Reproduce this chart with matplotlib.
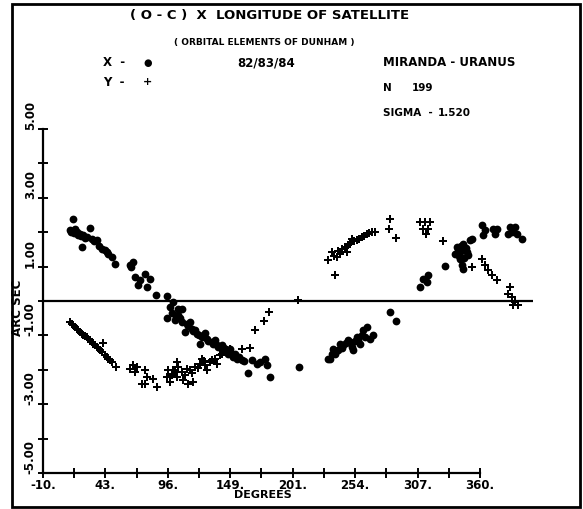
import matplotlib
matplotlib.use("Agg")
import matplotlib.pyplot as plt
from matplotlib.patches import Rectangle
import numpy as np

# (O - C) residuals, degrees of longitude vs arc seconds
x_deg = [15.1, 12.9, 17.1, 18.5, 21.3, 29.8, 24.1, 27.0, 31.2, 35.5, 23.3, 39.7,
         42.5, 45.3, 48.2, 51.0, 63.7, 66.0, 67.9, 70.7, 76.4, 80.6, 77.8, 72.1,
         85.7, 94.7, 100.3, 104.6, 101.8, 107.4, 111.7, 110.2, 115.9, 120.1, 124.4,
         128.6, 132.8, 137.1, 139.9, 144.1, 147.0, 151.1, 154.0, 158.2, 166.7,
         171.0, 178.0, 179.4, 163.8, 182.2, 94.7, 107.4, 122.9, 97.5, 104.3, 114.5,
         118.7, 127.2, 135.6, 141.6, 148.3, 152.6, 207.0, 283.8, 288.9, 233.0,
         237.3, 240.0, 244.3, 248.5, 251.4, 255.6, 258.4, 261.2, 264.1, 266.9,
         269.7, 252.3, 241.5, 235.8, 231.6, 312.0, 309.2, 316.2, 314.9, 330.4,
         344.5, 345.9, 340.3, 343.1, 347.3, 345.9, 350.1, 351.6, 353.0, 338.9,
         343.1, 361.5, 364.3, 362.9, 371.3, 374.2, 372.7, 385.4, 389.7, 386.8,
         391.1, 395.3, 384.0,
         14.0, 16.5, 19.8, 22.6, 25.5, 33.0, 37.5, 44.0, 64.5, 99.0, 103.0, 106.0,
         113.0, 117.0, 122.0, 126.0, 130.0, 134.0, 138.5, 143.0, 146.0, 150.0,
         156.0, 160.0, 174.0, 234.5, 238.5, 242.8, 246.5, 250.0, 254.0, 257.0,
         260.0, 262.5, 341.5, 344.0, 348.5, 342.0, 346.5, 349.0]
x_sec = [2.39, 2.06, 2.10, 2.00, 1.96, 2.12, 1.91, 1.86, 1.81, 1.77, 1.57, 1.52,
         1.47, 1.38, 1.28, 1.08, 1.04, 1.13, 0.70, 0.46, 0.79, 0.65, 0.41, 0.61,
         0.18, 0.14, -0.03, -0.22, -0.56, -0.61, -0.66, -0.90, -0.80, -0.95, -1.05,
         -1.10, -1.19, -1.29, -1.34, -1.43, -1.53, -1.63, -1.68, -1.72, -1.72,
         -1.82, -1.68, -1.87, -2.09, -2.21, -0.49, -0.22, -1.24, -0.17, -0.41, -0.61,
         -0.84, -0.93, -1.13, -1.28, -1.40, -1.54, -1.92, -0.32, -0.58, -1.68,
         -1.53, -1.43, -1.29, -1.14, -1.34, -1.05, -1.24, -0.85, -0.76, -1.10,
         -1.00, -1.43, -1.24, -1.39, -1.68, 0.65, 0.41, 0.75, 0.55, 1.01,
         1.04, 0.94, 1.57, 1.42, 1.47, 1.67, 1.33, 1.76, 1.81, 1.38,
         1.23, 2.20, 2.06, 1.91, 2.10, 2.10, 1.96, 2.15, 2.15, 2.01,
         1.96, 1.81, 1.96,
         2.00, 1.98, 1.92, 1.88, 1.83, 1.75, 1.60, 1.42, 1.00, -0.35, -0.45, -0.50,
         -0.72, -0.88, -1.00, -1.02, -1.15, -1.25, -1.35, -1.38, -1.47, -1.55,
         -1.62, -1.75, -1.78, -1.55, -1.45, -1.36, -1.22, -1.20, -1.15, -1.12,
         -0.98, -1.05, 1.50, 1.60, 1.55, 1.30, 1.25, 1.42]

y_deg = [12.9, 15.7, 18.5, 21.3, 24.1, 27.0, 29.8, 32.6, 35.5, 38.3, 41.1, 42.5,
         45.3, 48.2, 51.6, 63.7, 66.5, 69.3, 67.9, 76.4, 77.8, 73.6, 83.4, 86.3,
         76.4, 96.1, 98.9, 101.8, 103.2, 94.7, 97.5, 104.6, 99.0, 103.2, 108.8,
         113.0, 117.3, 103.2, 107.4, 114.5, 118.7, 122.9, 124.4, 127.2, 131.4,
         135.6, 139.9, 144.1, 148.3, 158.2, 165.3, 169.5, 177.4, 181.6, 137.1,
         128.6, 206.2, 237.3, 231.6, 234.4, 238.7, 241.5, 245.7, 250.0, 251.4,
         255.6, 259.9, 264.1, 268.3, 271.1, 247.2, 283.8, 283.2, 288.9, 309.2,
         313.5, 317.7, 312.0, 316.2, 314.3, 329.0, 353.0, 361.5, 364.3, 367.1,
         370.0, 374.7, 385.4, 384.0, 386.8, 389.7, 392.5, 388.3,
         14.3, 17.1, 19.9, 22.7, 25.5, 28.4, 31.2, 34.0, 36.9, 39.7, 43.9, 46.8,
         100.5, 110.0, 112.0, 116.0, 121.0, 126.0, 133.5, 142.0, 146.0,
         236.0, 240.0, 243.5, 248.5, 253.0, 257.5, 262.0, 266.0]
y_sec = [-0.61, -0.71, -0.80, -0.90, -1.00, -1.05, -1.14, -1.24, -1.34, -1.43,
         -1.22, -1.58, -1.68, -1.77, -1.92, -1.97, -1.87, -1.92, -2.06, -2.02,
         -2.21, -2.42, -2.26, -2.50, -2.40, -2.02, -2.16, -2.06, -2.21, -2.21,
         -2.35, -1.92, -2.11, -2.21, -2.31, -2.40, -2.35, -1.77, -2.06, -2.02,
         -1.92, -1.82, -1.68, -1.87, -1.77, -1.68, -1.58, -1.48, -1.39, -1.39,
         -1.36, -0.85, -0.59, -0.32, -1.82, -2.02, 0.04, 0.77, 1.18, 1.42, 1.28,
         1.38, 1.57, 1.67, 1.81, 1.76, 1.86, 1.96, 2.01, 2.01, 1.42, 2.39, 2.08,
         1.83, 2.30, 2.30, 2.30, 2.10, 2.10, 1.96, 1.73, 0.99, 1.23, 1.04, 0.89,
         0.75, 0.60, 0.41, 0.21, 0.12, -0.03, -0.13, -0.13,
         -0.66, -0.76, -0.85, -0.95, -1.02, -1.10, -1.19, -1.29, -1.38, -1.48,
         -1.63, -1.72, -2.00, -2.15, -1.98, -2.10, -1.95, -1.75, -1.72, -1.55,
         -1.43, 1.30, 1.45, 1.50, 1.62, 1.75, 1.80, 1.90, 1.98]

x_ticks = list(np.linspace(-10, 360, 15))
x_labels = ["-10.", "43.", "96.", "149.", "201.", "254.", "307.", "360."]
y_ticks = list(range(-5, 6))
y_labels = ["-5.00", "-3.00", "-1.00", "1.00", "3.00", "5.00"]

W, H = 583, 510
fig = plt.figure(figsize=(W / 100, H / 100), dpi=100)
ax = fig.add_axes([43 / W, 36 / H, 500 / W, 344 / H])
ax.set_xlim(-10, 413.4)
ax.set_ylim(-5, 5)

font = "DejaVu Sans"

ax.plot(x_deg, x_sec, "o", color="black", ms=5.6, mew=0)
ax.plot(y_deg, y_sec, "P", color="black", ms=5.4, mew=0)
ax.hlines(0, -10, 405, color="black", lw=1.6)

for s in ["top", "right"]:
    ax.spines[s].set_visible(False)
ax.spines["left"].set_linewidth(1.6)
ax.spines["bottom"].set_linewidth(1.6)
ax.spines["bottom"].set_bounds(-10, 360)
ax.set_xticks(x_ticks)
ax.set_xticklabels([x_labels[i // 2] if i % 2 == 0 else "" for i in range(15)])
ax.set_yticks(y_ticks)
ax.set_yticklabels([y_labels[i // 2] if i % 2 == 0 else "" for i in range(11)],
                   rotation=90, va="bottom")
ax.tick_params(direction="inout", length=7, width=1.4, labelsize=8.5, pad=1)
ax.tick_params(axis="x", pad=0)
for lab in ax.get_xticklabels() + ax.get_yticklabels():
    lab.set_fontweight("bold")
    lab.set_family(font)

ax.set_xlabel("DEGREES", fontsize=8, fontweight="bold", family=font)
ax.xaxis.set_label_coords((263 - 43) / 500, -(495 - 474) / 344)
ax.xaxis.label.set_va("center")
ax.set_ylabel("ARC SEC", fontsize=8.5, fontweight="bold", family=font)
ax.yaxis.set_label_coords(-(43 - 24) / 500, (474 - 308) / 344)

def ftext(px, py, s, size, ha="left"):
    fig.text(px / W, 1 - py / H, s, fontsize=size, ha=ha, va="center",
             family=font, fontweight="bold")

ftext(270, 15, "( O - C )  X  LONGITUDE OF SATELLITE", 9.5, "center")
ftext(264, 43, "( ORBITAL ELEMENTS OF DUNHAM )", 6.5, "center")
ftext(103, 63, "X  -", 8.5)
ftext(103, 82, "Y  -", 8.5)
fig.text(148 / W, 1 - 63 / H, "\u25CF", fontsize=7, ha="center", va="center")
fig.text(148 / W, 1 - 82 / H, "+", fontsize=8, ha="center", va="center",
         fontweight="bold")
ftext(266, 63, "82/83/84", 8.5, "center")
ftext(383, 63, "MIRANDA - URANUS", 8.5)
ftext(383, 88, "N", 7.5)
ftext(412, 88, "199", 7.5)
ftext(383, 113, "SIGMA  -", 7.5)
ftext(438, 113, "1.520", 7.5)

fig.patches.append(Rectangle((12 / W, 1 - 508 / H), 568 / W, 503 / H,
                             transform=fig.transFigure, fill=False,
                             lw=2, ec="black"))

fig.savefig("out.png", dpi=100)
